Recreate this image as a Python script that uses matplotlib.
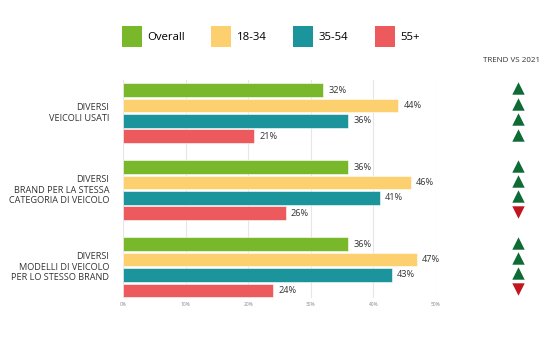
import numpy as np
import matplotlib.pyplot as plt
from matplotlib.patches import Patch

categories = ['DIVERSI\nVEICOLI USATI',
              'DIVERSI\nBRAND PER LA STESSA\nCATEGORIA DI VEICOLO',
              'DIVERSI\nMODELLI DI VEICOLO\nPER LO STESSO BRAND']
series = ['Overall', '18-34', '35-54', '55+']
overall = [32, 36, 36]
age_18_34 = [44, 46, 47]
age_35_54 = [36, 41, 43]
age_55 = [21, 26, 24]
# trend vs 2021: 1 up, -1 down, per group and series
trend = [[1, 1, 1, 1],
         [1, 1, 1, -1],
         [1, 1, 1, -1]]
xticks = [0, 10, 20, 30, 40, 50]

colors = ['#78b82a', '#fdd06f', '#1b949c', '#ec5a5e']
up_col = '#0f6b35'
down_col = '#c0161f'
txt = '#333333'

plt.rcParams['font.family'] = ['Open Sans', 'DejaVu Sans']

fig = plt.figure(figsize=(5.53, 3.4), dpi=100)
W, H = 553, 340
ax = fig.add_axes([123 / W, 1 - 298 / H, (436 - 123) / W, (298 - 80) / H])

values = [overall, age_18_34, age_35_54, age_55]
for j, vals in enumerate(values):
    for i, v in enumerate(vals):
        k = i * 5 + j
        ax.barh(k, v, height=0.88, color=colors[j], edgecolor='white', linewidth=0.4, zorder=3)
        ax.text(v + 0.8, k, f'{v}%', va='center', ha='left', fontsize=6.6, color=txt)
        up = trend[i][j] > 0
        ax.scatter([63.1], [k - 0.1], marker='^' if up else 'v', s=80,
                   color=up_col if up else down_col, clip_on=False, zorder=4, linewidths=0)

for i, c in enumerate(categories):
    ax.text(-2.2, i * 5 + 1.5, c, ha='right', va='center', fontsize=6.6,
            color=txt, linespacing=1.2)

ax.set_xlim(0, 50)
ax.set_ylim(13.5, -0.65)
ax.set_xticks(xticks)
ax.set_xticklabels([f'{t}%' for t in xticks], fontsize=3.5, color='#888888')
ax.tick_params(axis='x', length=0, pad=3)
ax.set_yticks([])
ax.grid(axis='x', color='#e6e6e6', linewidth=0.8, zorder=0)
for s in ax.spines.values():
    s.set_visible(False)

fig.text(512 / W, 1 - 60 / H, 'TREND VS 2021', ha='center', va='center',
         fontsize=5.8, color=txt)

handles = [Patch(facecolor=c, edgecolor='none') for c in colors]
fig.legend(handles, series, loc='center left', bbox_to_anchor=(122 / W, 1 - 36.5 / H),
           ncol=4, frameon=False, fontsize=8.2, handlelength=1.75, handleheight=2.4,
           columnspacing=2.3, handletextpad=0.5, borderaxespad=0, borderpad=0)

fig.savefig('out.png', dpi=100)
